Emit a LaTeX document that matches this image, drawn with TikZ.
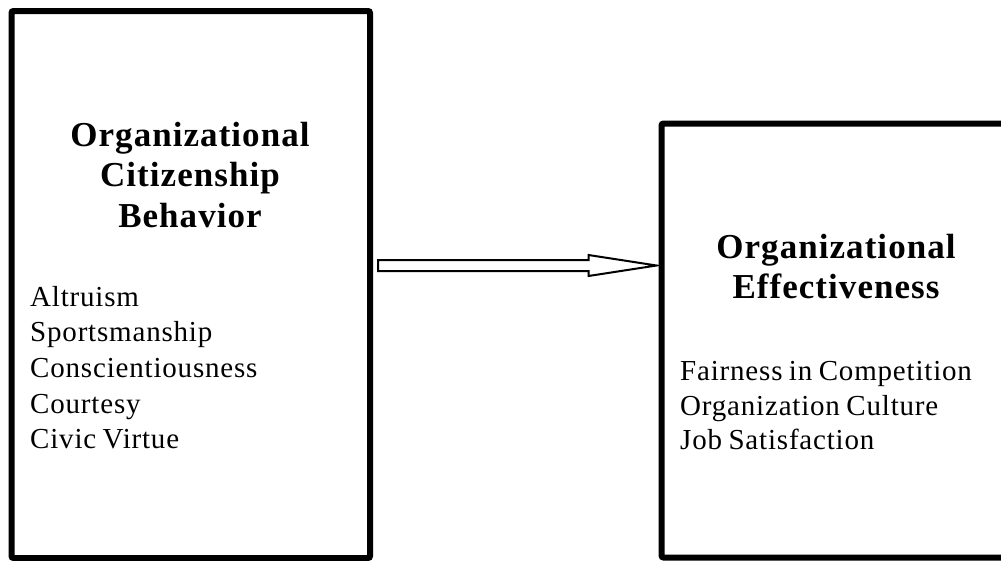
\documentclass[tikz,border=0pt]{standalone}
\usepackage{fontspec}
\setmainfont{Liberation Serif}
\newfontfamily\headfont[LetterSpace=3]{Liberation Serif Bold}
\newfontfamily\bodyfont[LetterSpace=2.8,WordSpace=0.8]{Liberation Serif}
\begin{document}
\begin{tikzpicture}[x=1pt,y=-1pt,
  boxstyle/.style={draw=black,line width=6pt,rounded corners=2pt,inner sep=0pt,fill=none},
  headline/.style={anchor=base,inner sep=0pt,font=\headfont\fontsize{35}{40}\selectfont},
  itemline/.style={anchor=base west,inner sep=0pt,font=\bodyfont\fontsize{29}{34}\selectfont},
  hollowarrow/.style={draw=black,line width=2pt,fill=white,line join=miter}]
\useasboundingbox (0,0) rectangle (1001,560);
\clip (0,0) rectangle (1001,560);
% boxes
\node[boxstyle,minimum width=358.5pt,minimum height=547pt] (L) at (190.75,284.5) {};
\node[boxstyle,minimum width=360pt,minimum height=434pt] (R) at (841.5,340.5) {};
% left texts
\node[headline] (lh1) at (190,146) {Organizational};
\node[headline] (lh2) at (190,186.5) {Citizenship};
\node[headline] (lh3) at (190,227) {Behavior};
\node[itemline] (li1) at (30,306) {Altruism};
\node[itemline] (li2) at (30,341) {Sportsmanship};
\node[itemline] (li3) at (30,377) {Conscientiousness};
\node[itemline] (li4) at (30,413) {Courtesy};
\node[itemline] (li5) at (30,448) {Civic Virtue};
% right texts
\node[headline] (rh1) at (836,258) {Organizational};
\node[headline] (rh2) at (836,298) {Effectiveness};
\node[itemline] (ri1) at (680,380) {Fairness in Competition};
\node[itemline] (ri2) at (680,415) {Organization Culture};
\node[itemline] (ri3) at (680,449) {Job Satisfaction};
% hollow arrow from L to R
\coordinate (atail) at ([xshift=5pt]L.east |- 0,265.5);
\coordinate (atip) at ([xshift=-2pt]R.west |- 0,265.5);
\draw[hollowarrow] ([yshift=-5.5pt]atail) -- ([xshift=-68pt,yshift=-5.5pt]atip)
  -- ([xshift=-68pt,yshift=-10.5pt]atip) -- (atip)
  -- ([xshift=-68pt,yshift=10.5pt]atip) -- ([xshift=-68pt,yshift=5.5pt]atip)
  -- ([yshift=5.5pt]atail) -- cycle;
\end{tikzpicture}
\end{document}
